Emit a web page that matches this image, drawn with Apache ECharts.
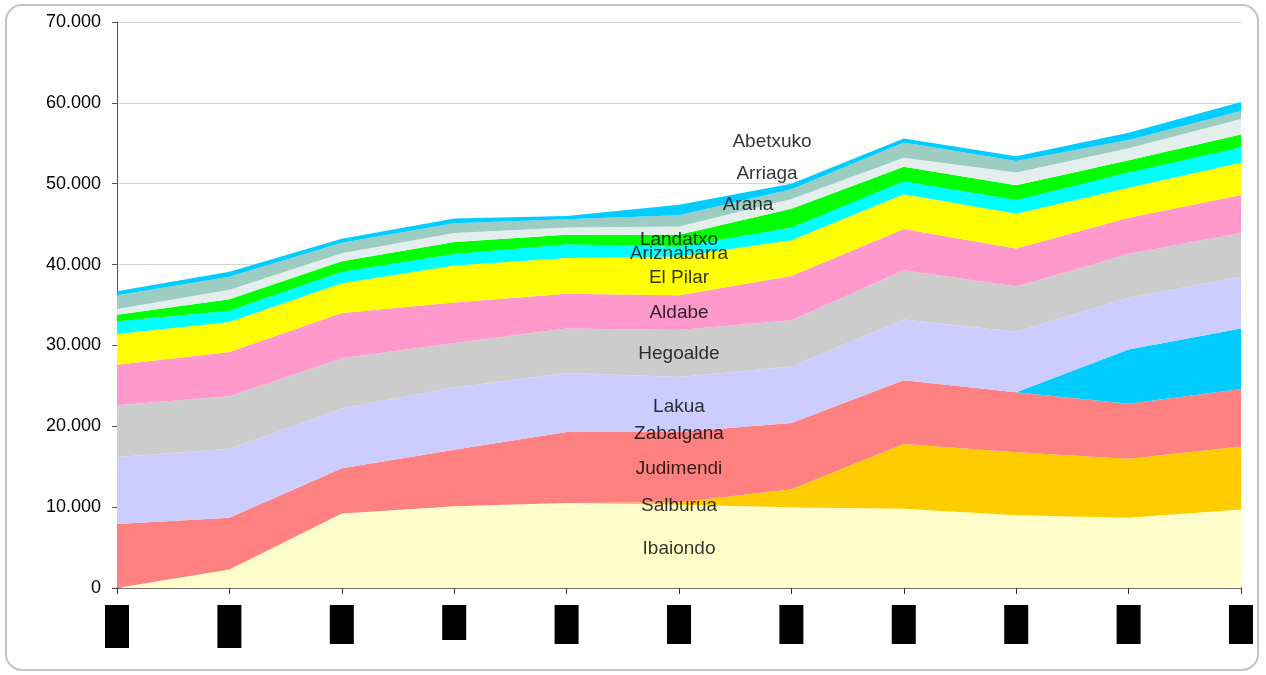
<!DOCTYPE html>
<html>
<head>
<meta charset="utf-8">
<style>
  html, body { margin: 0; padding: 0; background: #fff; }
  #chart { width: 1266px; height: 675px; }
</style>
<script src="https://cdn.jsdelivr.net/npm/echarts@6/dist/echarts.min.js"></script>
</head>
<body>
<div id="chart"></div>
<script>
// categorias (las etiquetas del eje salen como bloques negros)
var categories = ['1', '2', '3', '4', '5', '6', '7', '8', '9', '10', '11'];

// valores por barrio, de abajo a arriba
var ibaiondo    = [0,    2300, 9200, 10100, 10500, 10300, 10000, 9800, 9000, 8700, 9700];
var salburua    = [0,    0,    0,    0,     0,     300,   2200,  8000, 7800, 7300, 7800];
var judimendi   = [7900, 6400, 5600, 7000,  8800,  8700,  8200,  7900, 7400, 6800, 7100];
var zabalgana   = [0,    0,    0,    0,     0,     0,     0,     0,    0,    6700, 7500];
var lakua       = [8300, 8500, 7400, 7700,  7300,  6800,  7000,  7500, 7500, 6400, 6400];
var hegoalde    = [6400, 6500, 6200, 5500,  5500,  5800,  5700,  6100, 5600, 5400, 5400];
var aldabe      = [5000, 5500, 5600, 5000,  4300,  4300,  5500,  5100, 4700, 4500, 4700];
var elPilar     = [3800, 3700, 3700, 4600,  4400,  4800,  4400,  4300, 4300, 3700, 4000];
var ariznabarra = [1600, 1400, 1400, 1400,  1700,  1200,  1600,  1600, 1700, 1900, 1900];
var landatxo    = [800,  1400, 1300, 1500,  1200,  1500,  2300,  1800, 1800, 1500, 1600];
var arana       = [700,  1200, 1000, 1100,  900,   1000,  1200,  1100, 1600, 1500, 1900];
var arriaga     = [1700, 1600, 1300, 1200,  1000,  1400,  1200,  1900, 1400, 1000, 1000];
var abetxuko    = [500,  600,  500,  600,   400,   1300,  700,   500,  600,  900,  1100];

var yTicks = [0, 10000, 20000, 30000, 40000, 50000, 60000, 70000];

var series_list = [
    { name: 'Ibaiondo',    data: ibaiondo,    color: '#FFFFCC' },
    { name: 'Salburua',    data: salburua,    color: '#FFCC00' },
    { name: 'Judimendi',   data: judimendi,   color: '#FF8080' },
    { name: 'Zabalgana',   data: zabalgana,   color: '#00CCFF' },
    { name: 'Lakua',       data: lakua,       color: '#CCCCFF' },
    { name: 'Hegoalde',    data: hegoalde,    color: '#CCCCCC' },
    { name: 'Aldabe',      data: aldabe,      color: '#FF99CC' },
    { name: 'El Pilar',    data: elPilar,     color: '#FFFF00' },
    { name: 'Ariznabarra', data: ariznabarra, color: '#00FFFF' },
    { name: 'Landatxo',    data: landatxo,    color: '#00FF00' },
    { name: 'Arana',       data: arana,       color: '#E4EFED' },
    { name: 'Arriaga',     data: arriaga,     color: '#9CCCC2' },
    { name: 'Abetxuko',    data: abetxuko,    color: '#00CCFF' }
];

// las etiquetas van en la mitad de cada franja, en la categoria 6
var labelIdx = 5;
// desplazamiento (px) de las etiquetas que estan fuera de su franja
var labelOffsets = {
    'Hegoalde': [0, 0],
    'Aldabe':   [0, 0],
    'Landatxo': [0, -1],
    'Arana':    [69, -26],
    'Arriaga':  [88, -47],
    'Abetxuko': [93, -68]
};
// alto de los bloques negros del eje x
var blockHeights = [43, 43, 39, 35, 39, 39, 39, 39, 39, 39, 39];

window.onload = function(){
    var myChart = echarts.init(document.getElementById('chart'));

    var areaSeries = series_list.map(function(s){
        return {
            name: s.name,
            type: 'line',
            stack: 'total',
            data: s.data,
            showSymbol: false,
            symbol: 'none',
            lineStyle: { width: 0 },
            areaStyle: { color: s.color, opacity: 1 },
            itemStyle: { color: s.color },
            silent: true
        };
    });

    // puntos de las etiquetas
    var base = 0;
    var labelData = series_list.map(function(s){
        var v = s.data[labelIdx];
        var mid = base + v / 2;
        base += v;
        return { name: s.name, value: [labelIdx, mid] };
    });

    var rich = {};
    blockHeights.forEach(function(h){
        rich['h' + h] = { width: 24, height: h, backgroundColor: '#000' };
    });

    var option = {
        animation: false,
        graphic: [{
            type: 'rect',
            z: -1,
            shape: { x: 6, y: 5, width: 1252, height: 665, r: 16 },
            style: { fill: 'none', stroke: '#c4c4c4', lineWidth: 2 }
        }],
        grid: { left: 117, right: 25, top: 22, bottom: 87 },
        xAxis: {
            type: 'category',
            data: categories,
            boundaryGap: false,
            axisLine: { lineStyle: { color: '#6e6e6e', width: 2 } },
            axisTick: { show: true, length: 6, lineStyle: { color: '#333' } },
            axisLabel: {
                margin: 17,
                interval: 0,
                formatter: function(v, i){ return '{h' + blockHeights[i] + '| }'; },
                rich: rich
            },
            splitLine: { show: false }
        },
        yAxis: {
            type: 'value',
            min: yTicks[0],
            max: yTicks[yTicks.length - 1],
            interval: 10000,
            axisLine: { show: true, lineStyle: { color: '#555', width: 1 } },
            axisTick: { show: true, length: 5, lineStyle: { color: '#555' } },
            axisLabel: {
                margin: 16,
                color: '#000',
                fontFamily: 'Liberation Sans, Arial, sans-serif',
                fontSize: 18,
                formatter: function(v){ return v === 0 ? '0' : (v / 1000) + '.000'; }
            },
            splitLine: { show: true, lineStyle: { color: '#d4d4d4', width: 1 } }
        },
        series: areaSeries.concat([{
            name: 'etiquetas',
            type: 'scatter',
            symbolSize: 1,
            itemStyle: { color: 'rgba(0,0,0,0)' },
            silent: true,
            z: 10,
            data: labelData,
            label: {
                show: true,
                position: 'inside',
                formatter: '{b}',
                color: '#000',
                textBorderWidth: 0,
                fontFamily: 'Liberation Sans, Arial, sans-serif',
                fontSize: 19
            },
            labelLayout: function(params){
                var name = series_list[params.dataIndex].name;
                var off = labelOffsets[name] || [0, 2];
                return { dx: off[0], dy: off[1], hideOverlap: false };
            }
        }])
    };
    myChart.setOption(option);
};
</script>
</body>
</html>
